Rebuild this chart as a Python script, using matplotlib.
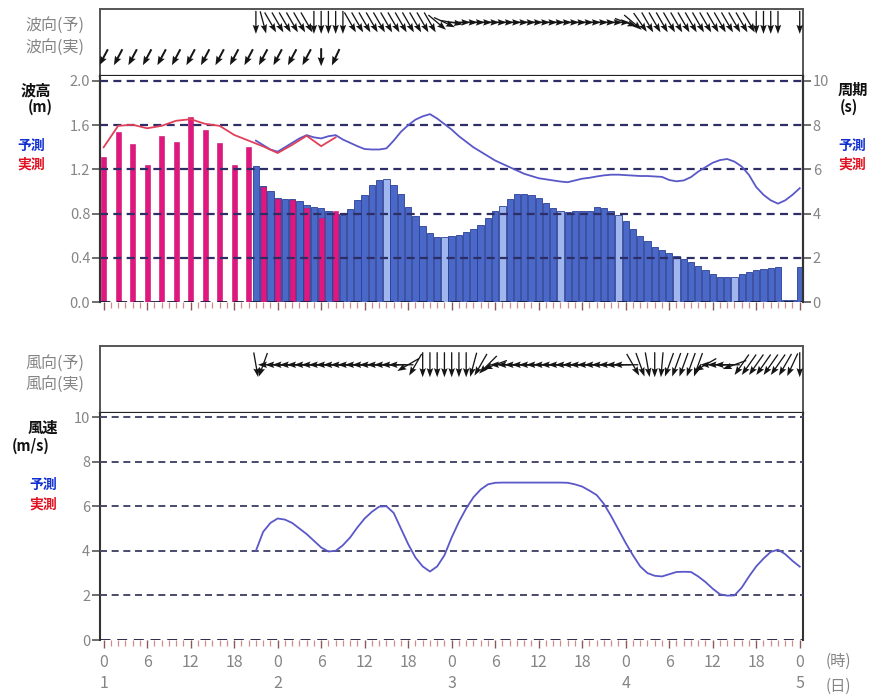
import matplotlib
matplotlib.use('Agg')
import matplotlib.pyplot as plt
import numpy as np
from matplotlib.ticker import MultipleLocator

plt.rcParams['font.family'] = ['Noto Sans CJK JP', 'DejaVu Sans']

# ---------------- data ----------------
hours_obs = list(range(0, 33, 2))
wave_h_obs = [1.31, 1.54, 1.43, 1.24, 1.50, 1.45, 1.67, 1.56, 1.44, 1.24, 1.40,
              1.04, 0.93, 0.92, 0.85, 0.76, 0.82]
period_obs = [7.0, 7.97, 8.02, 7.86, 7.97, 8.2, 8.27, 8.06, 7.97, 7.56, 7.3,
              7.04, 6.74, 7.11, 7.52, 7.05, 7.45]
wave_dir_obs = [-118, -118, -118, -118, -118, -118, -118, -118, -118, -118,
                -118, -118, -118, -118, -118, -90, -115]

hours_fc = list(range(21, 97))
wave_h_fc = [1.23, 1.05, 1.00, 0.94, 0.93, 0.93, 0.91, 0.88, 0.86, 0.85,
             0.82, 0.80, 0.79, 0.84, 0.92, 0.97, 1.06, 1.10, 1.11, 1.06,
             0.98, 0.86, 0.78, 0.69, 0.62, 0.59, 0.59, 0.60, 0.61, 0.63,
             0.66, 0.70, 0.76, 0.82, 0.87, 0.93, 0.98, 0.98, 0.97, 0.94,
             0.90, 0.85, 0.82, 0.81, 0.82, 0.82, 0.82, 0.86, 0.85, 0.82,
             0.79, 0.73, 0.66, 0.60, 0.55, 0.50, 0.47, 0.44, 0.42, 0.39,
             0.36, 0.33, 0.29, 0.25, 0.23, 0.23, 0.23, 0.25, 0.27, 0.29,
             0.30, 0.31, 0.32, 0.02, 0.02, 0.32]
period_fc = [7.3, 7.1, 6.9, 6.8, 7.0, 7.2, 7.4, 7.55, 7.45, 7.4,
             7.5, 7.55, 7.35, 7.2, 7.05, 6.92, 6.9, 6.9, 6.95, 7.3,
             7.7, 8.0, 8.25, 8.4, 8.5, 8.3, 8.05, 7.8, 7.5, 7.25,
             7.0, 6.8, 6.6, 6.4, 6.25, 6.1, 5.95, 5.8, 5.7, 5.6,
             5.55, 5.5, 5.45, 5.42, 5.5, 5.58, 5.62, 5.68, 5.73, 5.76,
             5.76, 5.74, 5.72, 5.7, 5.7, 5.68, 5.66, 5.52, 5.46, 5.5,
             5.65, 5.9, 6.1, 6.3, 6.42, 6.47, 6.35, 6.13, 5.75, 5.2,
             4.85, 4.6, 4.45, 4.6, 4.85, 5.15]
wind_fc = [4.0, 4.85, 5.25, 5.45, 5.4, 5.25, 5.0, 4.75, 4.45, 4.15,
           3.97, 4.0, 4.25, 4.6, 5.05, 5.45, 5.75, 5.98, 6.0, 5.7,
           5.0, 4.3, 3.7, 3.3, 3.07, 3.3, 3.8, 4.6, 5.3, 5.9,
           6.4, 6.75, 6.98, 7.05, 7.06, 7.06, 7.06, 7.06, 7.06, 7.06,
           7.06, 7.06, 7.06, 7.05, 6.98, 6.88, 6.7, 6.5, 6.1, 5.55,
           4.95, 4.35, 3.8, 3.3, 3.0, 2.88, 2.85, 2.95, 3.05, 3.06,
           3.05, 2.85, 2.6, 2.3, 2.05, 1.99, 2.0, 2.35, 2.85, 3.3,
           3.65, 3.95, 4.05, 3.85, 3.55, 3.29]
nan = float('nan')
wave_dir_fc = ([-90, -75] + [-60] * 6 + [-90] * 5 + [-60] * 12 + [-40, -25, -10]
               + [0] * 23 + [-20, -40, -55] + [-60] * 15 + [-90] * 4 + [nan, nan, -90])
wind_dir_fc = ([-80, -110] + [180] * 19 + [-150, -120] + [-90] * 7
               + [-105, -120, -135, -160] + [180] * 18 + [-60, -70, -80, -90, -95]
               + [-110] * 5 + [-150] + [180] * 3 + [-160] + [-125] * 6 + [-120, -115, -90])

tick_hours = list(range(0, 97, 6))
tick_labels = ['0', '6', '12', '18'] * 4 + ['0']
day_hours = [0, 24, 48, 72, 96]
day_labels = ['1', '2', '3', '4', '5']
light_bar_hours = [39, 47, 55, 63, 71, 79, 87]

# ---------------- layout ----------------
W_PX, H_PX = 877, 697
fig = plt.figure(figsize=(W_PX / 100, H_PX / 100), dpi=100)
fig.patch.set_facecolor('white')

def fx(x):
    return x / W_PX

def fy(y):
    return 1 - y / H_PX

L = fx(100)
WD = fx(803) - fx(100)
ax_wd = fig.add_axes([L, fy(76), WD, (76 - 9) / H_PX])
ax_w = fig.add_axes([L, fy(302), WD, (302 - 76) / H_PX])
ax_dd = fig.add_axes([L, fy(413), WD, (413 - 346) / H_PX])
ax_s = fig.add_axes([L, fy(640), WD, (640 - 413) / H_PX])

XL = (-0.5, 96.45)
GREY = '#858585'
BLUE_LINE = '#5a58c8'
RED_LINE = '#e0405a'

for a in (ax_wd, ax_w, ax_dd, ax_s):
    a.set_xlim(*XL)

# arrow boxes
def arrow_box(a):
    a.set_ylim(0, 1)
    a.set_xticks([])
    a.set_yticks([])
    for s in a.spines.values():
        s.set_color('#555555')
        s.set_linewidth(1.4)
    a.spines['bottom'].set_color('#222222')
    a.spines['bottom'].set_linewidth(1.6)

arrow_box(ax_wd)
arrow_box(ax_dd)

def draw_arrows(a, hrs, dirs, yrel, length, width, hw, hl, hal):
    hh = [h for h, d in zip(hrs, dirs) if not np.isnan(d)]
    dd = np.radians([d for d in dirs if not np.isnan(d)])
    U = length * np.cos(dd)
    V = length * np.sin(dd)
    a.quiver(hh, [yrel] * len(hh), U, V, angles='uv', scale_units='dots', scale=1,
             units='dots', width=width, headwidth=hw, headlength=hl,
             headaxislength=hal, pivot='middle', color='#151515', zorder=3)

draw_arrows(ax_wd, hours_fc, wave_dir_fc, 0.80, 23, 1.3, 5, 7, 6)
draw_arrows(ax_wd, hours_obs, wave_dir_obs, 0.28, 18, 2.0, 3.5, 4.5, 4)
draw_arrows(ax_dd, hours_fc, wind_dir_fc, 0.72, 25, 1.3, 5, 7, 6)

# ---------------- wave panel ----------------
ax_w.set_ylim(0, 2.045)
bar_colors = ['#9fb6ee' if h in light_bar_hours else '#4a68c8' for h in hours_fc]
ax_w.bar(hours_fc, wave_h_fc, width=0.88, color=bar_colors, edgecolor='#2c3f95',
         linewidth=0.6, zorder=2)
ax_w.bar(hours_obs, wave_h_obs, width=0.7, color='#e0177f', edgecolor='#c8106c',
         linewidth=0.4, zorder=2.5)

ax_p = ax_w.twinx()
ax_p.set_xlim(*XL)
ax_p.set_ylim(0, 10.225)
ax_p.plot(hours_fc, period_fc, color=BLUE_LINE, lw=1.3, zorder=3)
ax_p.plot(hours_obs, period_obs, color=RED_LINE, lw=1.3, zorder=4)

DASH = (0, (3.6, 2.4))
for v in [0.4, 0.8, 1.2, 1.6, 2.0]:
    ax_w.axhline(v, color='#2e2e66', lw=1.6, ls=DASH, zorder=3)
ax_w.axhline(0, color='#1a1a3a', lw=2.0, ls=DASH, zorder=3)

# ---------------- wind panel ----------------
ax_s.set_ylim(0, 10.18)
ax_s.plot(hours_fc, wind_fc, color=BLUE_LINE, lw=1.3, zorder=4)
for v in [2, 4, 6, 8, 10]:
    ax_s.axhline(v, color='#4a4a6a', lw=1.4, ls=DASH, zorder=3)
ax_s.axhline(0, color='#1a1a3a', lw=2.0, ls=DASH, zorder=3)

# ---------------- axes styling ----------------
for a in (ax_w, ax_s, ax_p):
    for side in ('top', 'bottom'):
        a.spines[side].set_visible(False)
    for side in ('left', 'right'):
        a.spines[side].set_color('#333333')
        a.spines[side].set_linewidth(1.5)

ax_w.set_yticks([0.0, 0.4, 0.8, 1.2, 1.6, 2.0])
ax_w.set_yticklabels(['0.0', '0.4', '0.8', '1.2', '1.6', '2.0'])
ax_p.set_yticks([0, 2, 4, 6, 8, 10])
ax_p.set_yticklabels(['0', '2', '4', '6', '8', '10'])
ax_s.set_yticks([0, 2, 4, 6, 8, 10])
ax_s.set_yticklabels(['0', '2', '4', '6', '8', '10'])

for a in (ax_w, ax_s):
    a.tick_params(axis='y', direction='out', length=6, width=1.2, color='#555555',
                  labelcolor=GREY, labelsize=10.5, pad=1)
ax_p.tick_params(axis='y', direction='out', length=6, width=1.2, color='#555555',
                 labelcolor=GREY, labelsize=10.5, pad=1)

for a in (ax_w, ax_s):
    a.set_xticks(tick_hours)
    a.xaxis.set_minor_locator(MultipleLocator(1))
    a.tick_params(axis='x', which='major', direction='out', length=6, width=1.0,
                  color='#8a5a5a')
    a.tick_params(axis='x', which='minor', direction='out', length=4, width=0.9,
                  color='#d08c8c')
ax_w.set_xticklabels([])
ax_s.set_xticklabels(tick_labels)
ax_s.tick_params(axis='x', which='major', labelcolor=GREY, labelsize=11.5, pad=4)

# day labels
for h, d in zip(day_hours, day_labels):
    ax_s.text(h, -0.19, d, transform=ax_s.get_xaxis_transform(), ha='center',
              va='center', color=GREY, fontsize=11.5)
fig.text(fx(838), fy(661), '(時)', ha='center', va='center', color=GREY, fontsize=11)
fig.text(fx(838), fy(686), '(日)', ha='center', va='center', color=GREY, fontsize=11)

# ---------------- side labels ----------------
fig.text(fx(55), fy(25), '波向(予)', ha='center', va='center', color=GREY, fontsize=11.5)
fig.text(fx(55), fy(47), '波向(実)', ha='center', va='center', color=GREY, fontsize=11.5)
fig.text(fx(55), fy(363), '風向(予)', ha='center', va='center', color=GREY, fontsize=11.5)
fig.text(fx(55), fy(384), '風向(実)', ha='center', va='center', color=GREY, fontsize=11.5)

fig.text(fx(36), fy(90), '波高', ha='center', va='center', color='#111111',
         fontsize=11, fontweight='bold')
fig.text(fx(40), fy(107), '(m)', ha='center', va='center', color='#111111',
         fontsize=10.5, fontweight='bold')
fig.text(fx(31), fy(146), '予測', ha='center', va='center', color='#1030d0',
         fontsize=10, fontweight='bold')
fig.text(fx(31), fy(165), '実測', ha='center', va='center', color='#e01020',
         fontsize=10, fontweight='bold')

fig.text(fx(838), fy(90), '周期', ha='left', va='center', color='#111111',
         fontsize=11, fontweight='bold')
fig.text(fx(840), fy(107), '(s)', ha='left', va='center', color='#111111',
         fontsize=10.5, fontweight='bold')
fig.text(fx(838), fy(146), '予測', ha='left', va='center', color='#1030d0',
         fontsize=10, fontweight='bold')
fig.text(fx(838), fy(165), '実測', ha='left', va='center', color='#e01020',
         fontsize=10, fontweight='bold')

fig.text(fx(43), fy(428), '風速', ha='center', va='center', color='#111111',
         fontsize=11, fontweight='bold')
fig.text(fx(31), fy(446), '(m/s)', ha='center', va='center', color='#111111',
         fontsize=10.5, fontweight='bold')
fig.text(fx(43), fy(485), '予測', ha='center', va='center', color='#1030d0',
         fontsize=10, fontweight='bold')
fig.text(fx(43), fy(505), '実測', ha='center', va='center', color='#e01020',
         fontsize=10, fontweight='bold')

fig.savefig('out.png', dpi=100)
